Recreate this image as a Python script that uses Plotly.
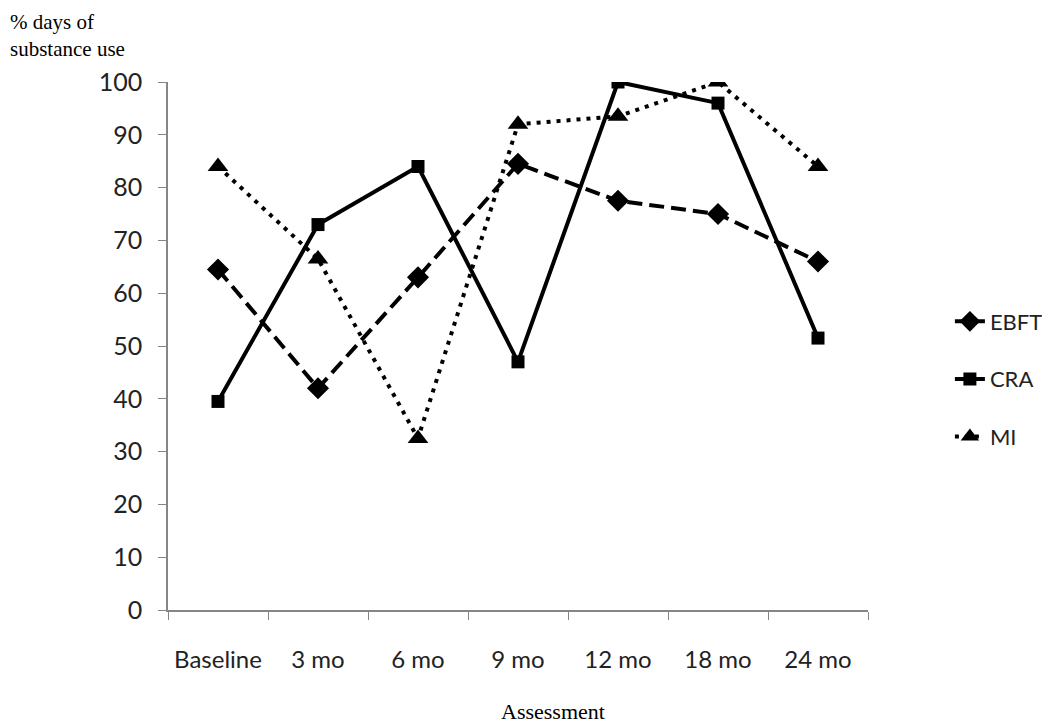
import plotly.graph_objects as go

# 評估時點與各組數值（自圖上讀取）
assessments = ["Baseline", "3 mo", "6 mo", "9 mo", "12 mo", "18 mo", "24 mo"]
ebft = [64.5, 42, 63, 84.5, 77.5, 75, 66]
cra = [39.5, 73, 84, 47, 100, 96, 51.5]
mi = [84, 66.5, 32.5, 92, 93.5, 100, 84]
y_ticks = [0, 10, 20, 30, 40, 50, 60, 70, 80, 90, 100]

SANS = "Lato, Open Sans, sans-serif"
SERIF = "Liberation Serif, DejaVu Serif, serif"
AXIS = "#868686"

fig = go.Figure()
fig.add_trace(go.Scatter(
    x=assessments, y=ebft, name="EBFT", mode="lines+markers",
    line=dict(color="black", width=4, dash="15px,7px"),
    marker=dict(symbol="diamond", size=17, color="black"), legendgroup="a"))
fig.add_trace(go.Scatter(
    x=assessments, y=cra, name="CRA", mode="lines+markers",
    line=dict(color="black", width=4),
    marker=dict(symbol="square", size=13, color="black"), legendgroup="b"))
fig.add_trace(go.Scatter(
    x=assessments, y=mi, name="MI", mode="lines+markers",
    line=dict(color="black", width=4, dash="4px,6px"),
    marker=dict(symbol="triangle-up", size=18, color="black"), legendgroup="c"))

# 頁面 body 有 8px 邊距，所以圖寬高各減 8
fig.update_layout(
    width=1042, height=717,
    template="plotly_white",
    plot_bgcolor="white", paper_bgcolor="white",
    margin=dict(l=160, r=182, t=74, b=115, autoexpand=False),
    font=dict(family=SANS, size=25, color="#222"),
    legend=dict(x=1.117, y=0.4375, xanchor="left", yanchor="middle",
                font=dict(size=22, color="#222"), tracegroupgap=26,
                bgcolor="rgba(0,0,0,0)"),
    annotations=[
        dict(text="% days of<br>substance use", xref="paper", yref="paper",
             x=-0.2286, y=1.14, xanchor="left", yanchor="top", align="left",
             showarrow=False, font=dict(family=SERIF, size=21, color="black")),
        dict(text="Assessment", xref="paper", yref="paper", x=0.55, y=-0.165,
             xanchor="center", yanchor="top", showarrow=False,
             font=dict(family=SERIF, size=22, color="black")),
    ],
)
fig.update_xaxes(type="category", range=[-0.5, 6.5], showgrid=False, zeroline=False,
                 showline=True, linecolor=AXIS, linewidth=1.5,
                 ticks="outside", tickson="boundaries", ticklen=8, tickcolor=AXIS,
                 tickangle=0, tickfont=dict(size=24), ticklabelstandoff=27)
fig.update_yaxes(range=[0, 100], tickvals=y_ticks, showgrid=False, zeroline=False,
                 showline=True, linecolor=AXIS, linewidth=1.5,
                 ticks="outside", ticklen=8, tickcolor=AXIS, ticklabelstandoff=11)

fig.write_html("out.html")
